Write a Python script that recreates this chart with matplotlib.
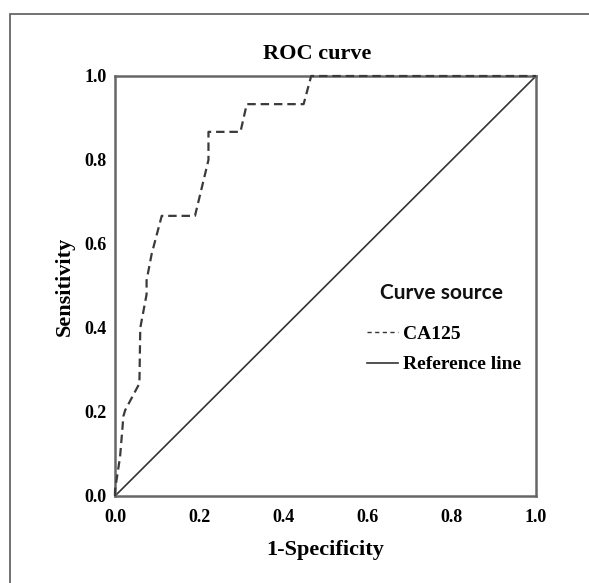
import matplotlib
matplotlib.use("Agg")
import matplotlib.pyplot as plt
from matplotlib.lines import Line2D
from matplotlib.patches import Rectangle

# ---- data ----
fpr = [0.0, 0.0, 0.012, 0.02, 0.024, 0.058, 0.06, 0.075, 0.075, 0.087, 0.111,
       0.19, 0.222, 0.222, 0.298, 0.313, 0.448, 0.466, 1.0]
tpr = [0.0, 0.014, 0.093, 0.19, 0.204, 0.268, 0.40, 0.48, 0.513, 0.576, 0.667,
       0.667, 0.80, 0.867, 0.867, 0.933, 0.933, 1.0, 1.0]
ref_x = [0.0, 1.0]
ref_y = [0.0, 1.0]
ticks = [0.0, 0.2, 0.4, 0.6, 0.8, 1.0]
tick_labels = ["0.0", "0.2", "0.4", "0.6", "0.8", "1.0"]
curve_name = "CA125"
ref_name = "Reference line"

W, H = 589, 583
fig = plt.figure(figsize=(W / 100, H / 100), dpi=100)
fig.patch.set_facecolor("white")

serif = "Liberation Serif"

# outer frame
fig.patches.append(Rectangle((10 / W, -0.1), 1.2, (H - 14) / H + 0.1,
                             transform=fig.transFigure, fill=False,
                             edgecolor="#5a5a5a", lw=1.2, clip_on=False))

ax = fig.add_axes([115 / W, 1 - 496 / H, (536 - 115) / W, (496 - 76) / H])
ax.plot(fpr, tpr, color="#3a3a3a", lw=1.6, linestyle=(0, (3.8, 2.2)),
        clip_on=False, zorder=3)
ax.plot(ref_x, ref_y, color="#333333", lw=1.2)
ax.set_xlim(0, 1)
ax.set_ylim(0, 1)
ax.set_xticks(ticks)
ax.set_yticks(ticks)
ax.set_xticklabels(tick_labels, fontfamily=serif, fontweight="bold", fontsize=13)
ax.set_yticklabels(tick_labels, fontfamily=serif, fontweight="bold", fontsize=13)
ax.tick_params(length=0, pad=6)
ax.tick_params(axis="x", pad=9)
for s in ax.spines.values():
    s.set_color("#666666")
    s.set_linewidth(1.8)

ax.set_title("ROC curve", fontfamily=serif, fontweight="bold", fontsize=16, pad=12,
             x=0.48)
ax.set_xlabel("1-Specificity", fontfamily=serif, fontweight="bold", fontsize=16)
ax.set_ylabel("Sensitivity", fontfamily=serif, fontweight="bold", fontsize=16)
ax.xaxis.set_label_coords(0.5, -0.105)
ax.yaxis.set_label_coords(-0.095, 0.5)

fig.text(441 / W, 1 - 293 / H, "Curve source", fontfamily="Lato", fontweight="bold",
         fontsize=15, ha="center", va="center", color="#111111")

handles = [Line2D([], [], color="#333333", lw=1.0, linestyle=(0, (3, 2.5))),
           Line2D([], [], color="#333333", lw=1.2)]
leg = ax.legend(handles, [curve_name, ref_name], loc="upper left",
                bbox_to_anchor=(367 / W, 1 - 325 / H), bbox_transform=fig.transFigure,
                frameon=False, handlelength=1.6, handletextpad=0.25,
                labelspacing=0.68, borderpad=0, borderaxespad=0,
                prop={"family": serif, "weight": "bold", "size": 14})

fig.savefig("out.png", dpi=100)
